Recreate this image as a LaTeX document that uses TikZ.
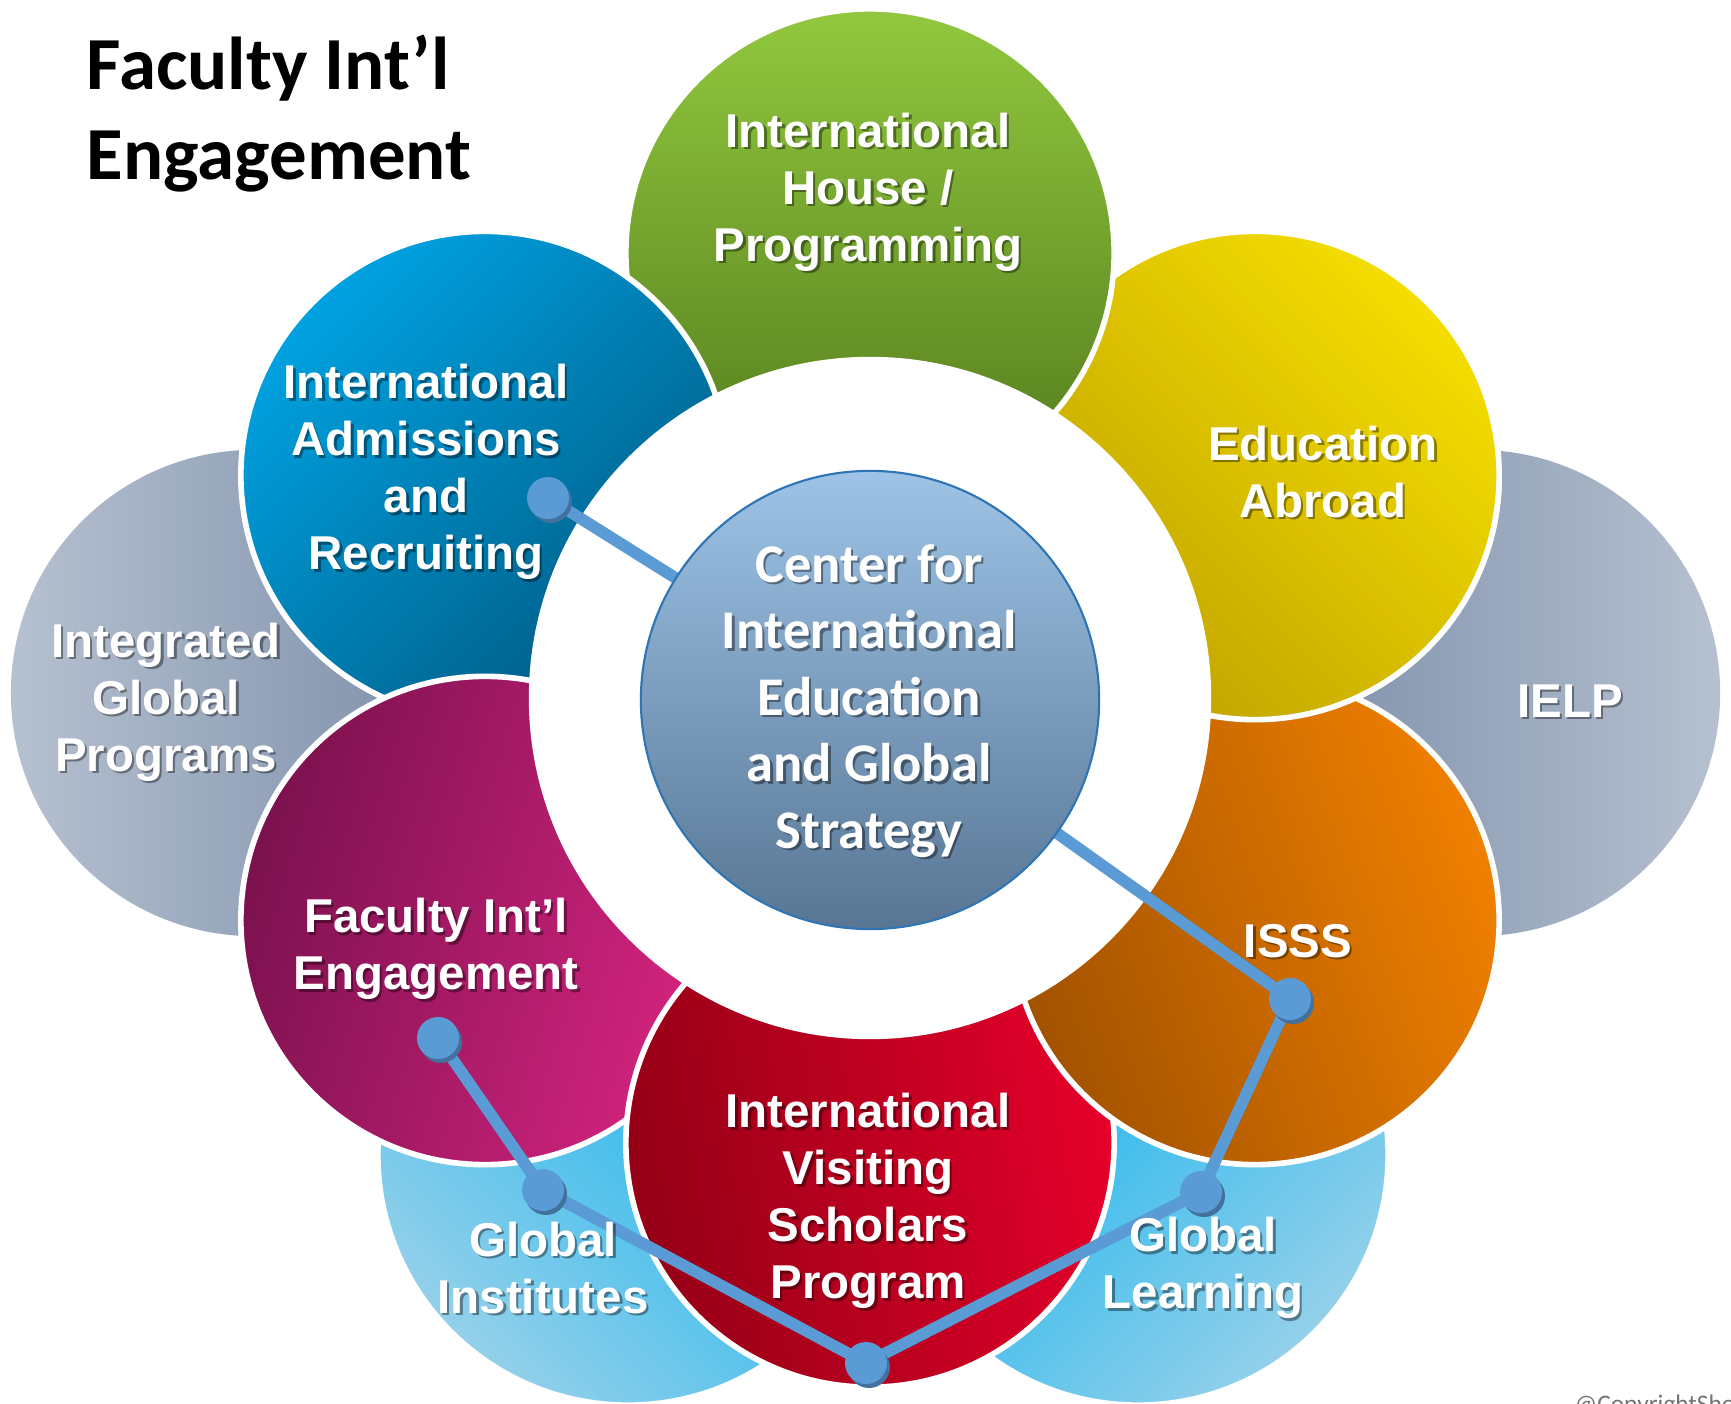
\documentclass[tikz,border=0pt]{standalone}
\usepackage{fontspec}
\setmainfont{Liberation Sans}
\newfontfamily\calibri{Carlito}

\definecolor{greenTop}{HTML}{92C83E}
\definecolor{greenBot}{HTML}{527A1C}
\definecolor{blueLight}{HTML}{00A2E2}
\definecolor{blueDark}{HTML}{005A82}
\definecolor{yellowLight}{HTML}{F4DE00}
\definecolor{yellowDark}{HTML}{C0A200}
\definecolor{orangeLight}{HTML}{F08000}
\definecolor{orangeDark}{HTML}{A25200}
\definecolor{redLight}{HTML}{E6002B}
\definecolor{redDark}{HTML}{940016}
\definecolor{magentaLight}{HTML}{D72480}
\definecolor{magentaDark}{HTML}{7B114E}
\definecolor{skyLight}{HTML}{00B0EF}
\definecolor{skyPale}{HTML}{94D0EA}
\definecolor{greyDark}{HTML}{7689A5}
\definecolor{greyPale}{HTML}{B6C1D0}
\definecolor{hubTop}{HTML}{9DC3E6}
\definecolor{hubBot}{HTML}{587694}
\definecolor{hubRim}{HTML}{2E75B6}
\definecolor{linkBlue}{HTML}{5B9BD5}
\definecolor{linkShade}{HTML}{41719C}

%% white label with a soft drop shadow
\newcommand{\petallabel}[4][petaltext]{%
  \node[#1, text=black, opacity=0.4, xshift=0.7pt, yshift=-0.7pt] at (#3) {#4};
  \node[#1] (#2) at (#3) {#4};}

\begin{document}
\begin{tikzpicture}
[x=0.01cm, y=-0.01cm,%
  petal/.style={draw=white, line width=1.6pt},%
  petaltext/.style={text=white, align=center, inner sep=0pt,
    font=\bfseries\fontsize{13.5}{16.2}\selectfont},%
  hubtext/.style={text=white, align=center, inner sep=0pt,
    font=\calibri\bfseries\fontsize{15.5}{18.9}\selectfont},%
  link/.style={draw=linkBlue, line width=3.3pt, line join=round},%
  linkshadow/.style={draw=black, opacity=0.2, line width=3.3pt, line join=round},%
  linkdot/.style={circle, fill=linkBlue, inner sep=0pt, minimum size=0.42cm}]
\useasboundingbox (0,0) rectangle (1731,1404);
%% petal centres
\coordinate (house) at (870,253);
\coordinate (abroad) at (1255,475.5);
\coordinate (isss) at (1255,920.5);
\coordinate (visiting) at (870,1143);
\coordinate (faculty) at (485,920.5);
\coordinate (admit) at (485,475.5);
\coordinate (integrated) at (254,693);
\coordinate (ielp) at (1477,693);
\coordinate (institutes) at (628,1155);
\coordinate (learning) at (1138,1155);
%%
%% outer discs, behind the ring
\shade[left color=greyPale, middle color=greyDark, right color=greyDark]
  (integrated) circle[radius=2.43cm];
\shade[left color=greyDark, middle color=greyDark, right color=greyPale]
  (ielp) circle[radius=2.43cm];
\shadedraw[petal, top color=skyLight, middle color=skyLight!80!skyPale,
  bottom color=skyPale, shading angle=-45] (institutes) circle[radius=2.5cm];
\shadedraw[petal, top color=skyLight, middle color=skyLight!80!skyPale,
  bottom color=skyPale, shading angle=45] (learning) circle[radius=2.5cm];
%%
%% inner ring, each petal over its clockwise neighbour
\shadedraw[petal, top color=yellowLight, bottom color=yellowDark, shading angle=-45]
  (abroad) circle[radius=2.44cm];
\shadedraw[petal, top color=greenTop, bottom color=greenBot]
  (house) circle[radius=2.44cm];
\shadedraw[petal, top color=blueLight, bottom color=blueDark, shading angle=45]
  (admit) circle[radius=2.44cm];
\shadedraw[petal, top color=magentaLight, bottom color=magentaDark, shading angle=-107]
  (faculty) circle[radius=2.44cm];
\shadedraw[petal, top color=redLight, bottom color=redDark, shading angle=-80]
  (visiting) circle[radius=2.44cm];
\shadedraw[petal, top color=orangeLight, bottom color=orangeDark, shading angle=-70]
  (isss) circle[radius=2.44cm];
\begin{scope}
  \clip (1000,480) rectangle (1520,740);
  \shadedraw[petal, top color=yellowLight, bottom color=yellowDark, shading angle=-45]
    (abroad) circle[radius=2.44cm];
\end{scope}
%%
\fill[white] (870,698) circle[radius=3.41cm];
%%
%% connectors
\coordinate (hubc) at (870,700);
\coordinate (p1) at (548,498);
\coordinate (p2) at (1290,999);
\coordinate (p3) at (1201,1192);
\coordinate (p4) at (866,1363);
\coordinate (p5) at (543,1190);
\coordinate (p6) at (438,1038);
\begin{scope}[shift={(2,3)}]
  \path[linkshadow] (p1) -- (hubc);
  \path[linkshadow] (hubc) -- (p2) -- (p3) -- (p4) -- (p5) -- (p6);
\end{scope}
\path[link] (p1) -- (hubc);
\path[link] (hubc) -- (p2) -- (p3) -- (p4) -- (p5) -- (p6);
\foreach \p in {p1,p2,p3,p4,p5,p6}
{
  \fill[linkShade] ([shift={(3,4)}]\p) circle[radius=0.21cm];
  \node[linkdot] (dot-\p) at (\p) {};
};
%%
\node[circle, draw=hubRim, line width=0.6pt, top color=hubTop, bottom color=hubBot,
  minimum size=4.58cm, inner sep=0pt] (hub) at (hubc) {};
%%
%% labels
\petallabel[hubtext]{hubname}{869,701}{Center for\\International\\Education\\and Global\\Strategy}
\petallabel{housename}{868,192}{International\\House /\\Programming}
\petallabel{abroadname}{1323,472}{Education\\Abroad}
\petallabel{ielpname}{1570,701}{IELP}
\petallabel{isssname}{1298,941}{ISSS}
\petallabel{visitingname}{868,1201}{International\\Visiting\\Scholars\\Program}
\petallabel{learningname}{1203,1268}{Global\\Learning}
\petallabel{institutesname}{543,1268}{Global\\Institutes}
\petallabel{facultyname}{436,949}{Faculty Int’l\\Engagement}
\petallabel{integratedname}{166,702}{Integrated\\Global\\Programs}
\petallabel{admitname}{426,472}{International\\Admissions\\and\\Recruiting}
%%
\node[anchor=north west, inner sep=0pt, align=left,
  font=\calibri\bfseries\fontsize{21.3}{25.8}\selectfont] (title) at (86,34)
  {Faculty Int’l\\Engagement};
\node[anchor=base west, inner sep=0pt, text=black!55,
  font=\calibri\fontsize{7.2}{9}\selectfont] (copyright) at (1574,1412) {@CopyrightShow};
\end{tikzpicture}
\end{document}
